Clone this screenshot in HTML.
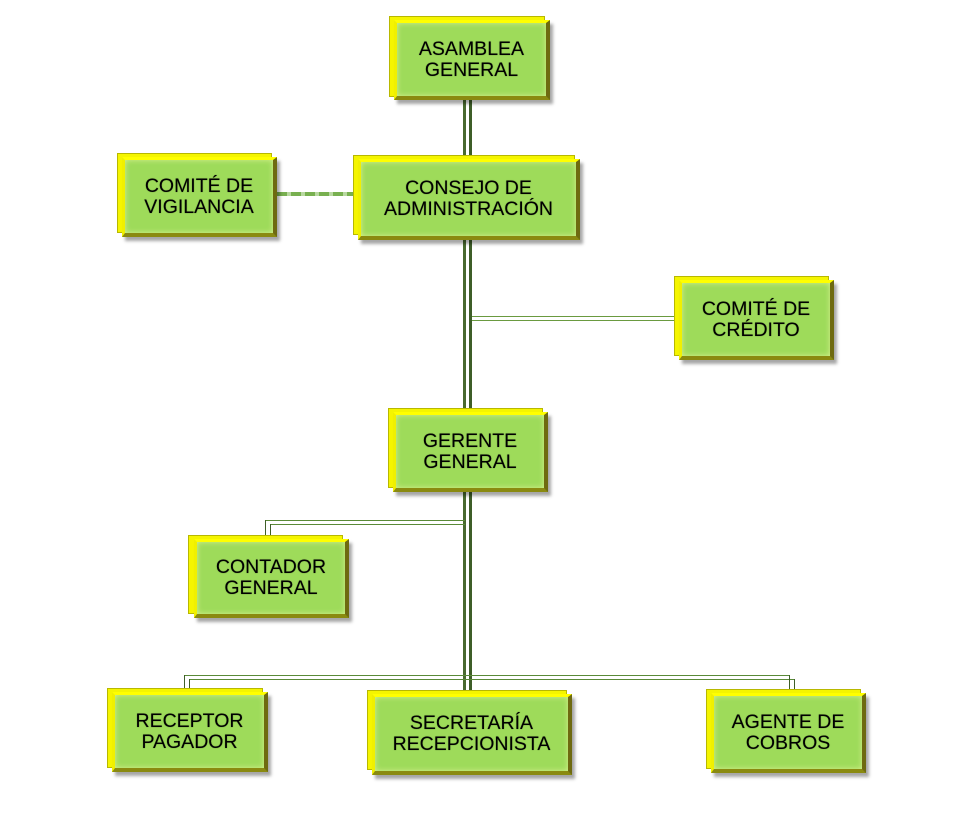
<!DOCTYPE html>
<html><head><meta charset="utf-8"><style>
body{margin:0;width:954px;height:814px;background:#fff;position:relative;overflow:hidden;font-family:"Liberation Sans",sans-serif}
.bk{position:absolute;background:#f5f500;border:1px solid #b8b800;box-sizing:border-box}
.fr{position:absolute;box-sizing:border-box;background:#9edb5a;border-top:3px solid #ffff00;border-left:3px solid #f0f000;border-right:4px solid #6e6a10;border-bottom:4px solid #8a8a10;box-shadow:3px 4px 3px rgba(0,0,0,.35), inset 0 0 6px rgba(255,255,180,.6);display:flex;align-items:center;justify-content:center;text-align:center;font-size:19.5px;line-height:21px;color:#000;text-shadow:0 0 1px rgba(0,0,0,.5)}
.l{position:absolute}
</style></head><body>
<div class="l" style="left:463px;top:100px;width:3px;height:590px;background:#4a6a30"></div>
<div class="l" style="left:469px;top:100px;width:3px;height:595px;background:#3e5e28"></div>
<div class="l" style="left:472px;top:316px;width:207px;height:1px;background:#6a9a40"></div>
<div class="l" style="left:472px;top:320px;width:207px;height:1px;background:#6a9a40"></div>
<div class="l" style="left:277px;top:192px;width:81px;height:4px;background:repeating-linear-gradient(90deg,#78b050 0 10px,#b8d8a0 10px 14px)"></div>
<div class="l" style="left:265px;top:520px;width:200px;height:1px;background:#5a8a38"></div>
<div class="l" style="left:270px;top:524px;width:195px;height:1px;background:#5a8a38"></div>
<div class="l" style="left:265px;top:520px;width:1px;height:18px;background:#3e5e28"></div>
<div class="l" style="left:270px;top:524px;width:1px;height:14px;background:#3e5e28"></div>
<div class="l" style="left:184px;top:675px;width:606px;height:1px;background:#5a8a38"></div>
<div class="l" style="left:189px;top:679px;width:606px;height:1px;background:#5a8a38"></div>
<div class="l" style="left:184px;top:675px;width:1px;height:16px;background:#3e5e28"></div>
<div class="l" style="left:189px;top:679px;width:1px;height:12px;background:#3e5e28"></div>
<div class="l" style="left:789px;top:675px;width:1px;height:16px;background:#3e5e28"></div>
<div class="l" style="left:794px;top:679px;width:1px;height:12px;background:#3e5e28"></div>

<div class="bk" style="left:389px;top:16px;width:156px;height:81px"></div>
<div class="fr" style="left:394px;top:20px;width:156px;height:80px">ASAMBLEA<br>GENERAL</div>

<div class="bk" style="left:353px;top:155px;width:222px;height:80px"></div>
<div class="fr" style="left:358px;top:159px;width:222px;height:81px">CONSEJO DE<br>ADMINISTRACIÓN</div>

<div class="bk" style="left:117px;top:153px;width:155px;height:80px"></div>
<div class="fr" style="left:122px;top:157px;width:155px;height:80px">COMITÉ DE<br>VIGILANCIA</div>

<div class="bk" style="left:674px;top:276px;width:155px;height:80px"></div>
<div class="fr" style="left:679px;top:280px;width:155px;height:80px">COMITÉ DE<br>CRÉDITO</div>

<div class="bk" style="left:388px;top:408px;width:155px;height:80px"></div>
<div class="fr" style="left:393px;top:412px;width:155px;height:80px">GERENTE<br>GENERAL</div>

<div class="bk" style="left:188px;top:535px;width:155px;height:79px"></div>
<div class="fr" style="left:194px;top:539px;width:155px;height:79px">CONTADOR<br>GENERAL</div>

<div class="bk" style="left:107px;top:688px;width:156px;height:80px"></div>
<div class="fr" style="left:112px;top:692px;width:156px;height:80px">RECEPTOR<br>PAGADOR</div>

<div class="bk" style="left:367px;top:690px;width:200px;height:80px"></div>
<div class="fr" style="left:372px;top:694px;width:200px;height:81px">SECRETARÍA<br>RECEPCIONISTA</div>

<div class="bk" style="left:706px;top:689px;width:155px;height:80px"></div>
<div class="fr" style="left:711px;top:693px;width:155px;height:80px">AGENTE DE<br>COBROS</div>
</body></html>
